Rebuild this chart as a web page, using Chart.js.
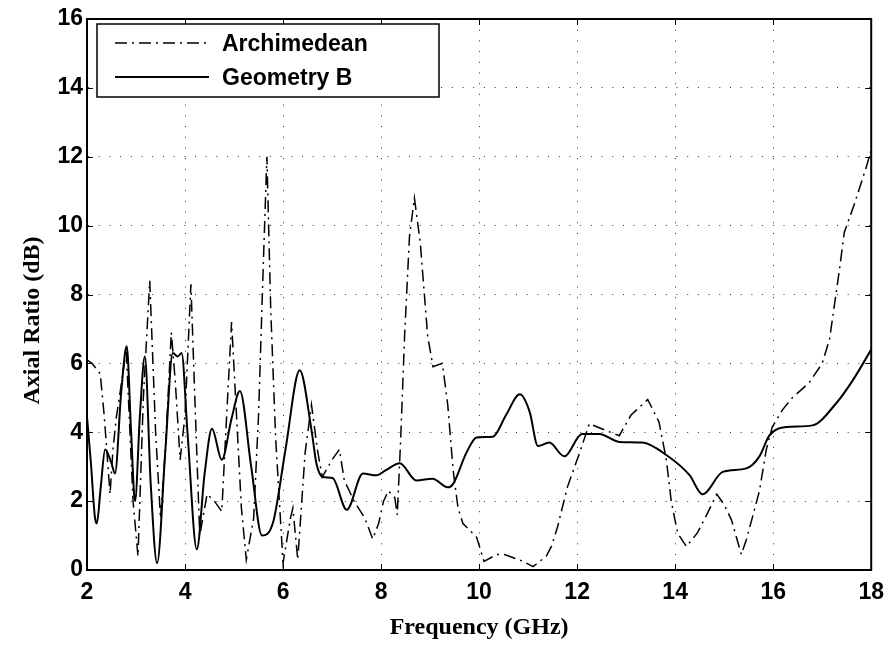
<!DOCTYPE html>
<html>
<head>
<meta charset="utf-8">
<script src="https://cdn.jsdelivr.net/npm/chart.js@4/dist/chart.umd.min.js"></script>
<style>
  html, body { margin: 0; padding: 0; background: #fff; }
  #wrap { width: 893px; height: 645px; }
</style>
</head>
<body>
<div id="wrap"><canvas id="arChart"></canvas></div>
<script>
// Axis ticks
const xTicks = [2, 4, 6, 8, 10, 12, 14, 16, 18];
const yTicks = [0, 2, 4, 6, 8, 10, 12, 14, 16];

// Archimedean (dash-dot)
const freqA = [2.0, 2.1, 2.27, 2.35, 2.47, 2.53, 2.6, 2.68, 2.8, 2.94,
  3.04, 3.15, 3.28, 3.4, 3.5, 3.6, 3.72, 3.8, 3.9, 4.0,
  4.12, 4.2, 4.3, 4.45, 4.6, 4.75, 4.85, 4.95, 5.05, 5.15,
  5.25, 5.4, 5.5, 5.6, 5.67, 5.75, 5.85, 6.0, 6.15, 6.2,
  6.3, 6.45, 6.58, 6.7, 6.8, 7.0, 7.15, 7.25, 7.45, 7.67,
  7.83, 7.95, 8.05, 8.15, 8.28, 8.33, 8.4, 8.48, 8.58, 8.68,
  8.8, 8.95, 9.06, 9.25, 9.36, 9.47, 9.57, 9.67, 9.95, 10.1,
  10.36, 10.52, 10.9, 11.1, 11.37, 11.48, 11.6, 11.8, 12.05, 12.25,
  12.5, 12.86, 13.1, 13.44, 13.67, 13.82, 13.92, 14.05, 14.23, 14.45,
  14.66, 14.85, 15.0, 15.15, 15.35, 15.45, 15.58, 15.72, 15.86, 15.98,
  16.19, 16.39, 16.74, 17.0, 17.15, 17.35, 17.45, 17.65, 17.9, 18.0];
const arA = [6.1, 6.0, 5.7, 4.5, 2.2, 3.5, 4.45, 5.2, 6.4, 2.0,
  0.4, 5.0, 8.4, 4.0, 1.5, 3.5, 6.9, 5.5, 3.2, 4.5,
  8.3, 5.0, 1.0, 2.2, 2.0, 1.7, 4.5, 7.2, 4.5, 1.8,
  0.3, 1.5, 4.5, 9.0, 12.0, 7.5, 3.8, 0.2, 1.5, 1.8,
  0.3, 3.4, 4.8, 3.5, 2.7, 3.2, 3.5, 2.6, 2.0, 1.5,
  0.9, 1.35, 2.0, 2.3, 2.1, 1.6, 3.8, 6.8, 9.7, 10.8,
  9.5, 6.8, 5.9, 6.0, 4.8, 2.9, 1.8, 1.35, 0.95, 0.25,
  0.45, 0.45, 0.25, 0.1, 0.4, 0.7, 1.25, 2.4, 3.4, 4.25,
  4.1, 3.9, 4.5, 4.95, 4.3, 3.2, 2.0, 1.07, 0.68, 1.07,
  1.65, 2.2, 1.9, 1.45, 0.45, 0.87, 1.55, 2.3, 3.5, 4.15,
  4.65, 5.0, 5.45, 6.0, 6.7, 8.7, 9.8, 10.6, 11.7, 12.2];

// Geometry B (solid)
const freqB = [2.0, 2.08, 2.16, 2.2, 2.28, 2.37, 2.5, 2.57, 2.7, 2.81,
  2.9, 2.98, 3.08, 3.18, 3.3, 3.43, 3.6, 3.75, 3.85, 3.93,
  4.05, 4.24, 4.4, 4.55, 4.75, 4.95, 5.12, 5.35, 5.57, 5.8,
  6.05, 6.34, 6.58, 6.68, 6.81, 7.01, 7.3, 7.63, 7.9, 8.1,
  8.38, 8.72, 9.05, 9.36, 9.47, 9.74, 9.95, 10.28, 10.55, 10.83,
  11.03, 11.2, 11.43, 11.74, 12.1, 12.45, 12.86, 13.33, 13.82, 14.29,
  14.56, 14.97, 15.45, 15.72, 15.92, 16.27, 16.8, 17.29, 17.62, 18.0];
const arB = [4.45, 3.1, 1.55, 1.35, 2.4, 3.5, 3.1, 2.8, 5.2, 6.5,
  4.0, 2.0, 4.5, 6.2, 2.5, 0.2, 3.5, 6.3, 6.2, 6.3,
  4.0, 0.6, 2.8, 4.1, 3.2, 4.4, 5.2, 3.0, 1.0, 1.4,
  3.5, 5.8, 4.07, 3.1, 2.7, 2.67, 1.75, 2.8, 2.75, 2.9,
  3.1, 2.6, 2.65, 2.4, 2.5, 3.4, 3.85, 3.87, 4.5, 5.1,
  4.6, 3.6, 3.7, 3.3, 3.95, 3.95, 3.72, 3.7, 3.34, 2.76,
  2.2, 2.85, 2.95, 3.3, 3.9, 4.15, 4.2, 4.85, 5.5, 6.4];

const xTitle = 'Frequency (GHz)';
const yTitle = 'Axial Ratio (dB)';

const toPoints = (xs, ys) => xs.map((x, i) => ({ x: x, y: ys[i] }));

const tickFont = { family: '"Liberation Sans", Arial, sans-serif', size: 23, weight: 'bold' };
const titleFont = { family: '"Liberation Serif", "Times New Roman", serif', size: 24, weight: 'bold' };

// MATLAB-style frame, inward ticks, y title and boxed legend
const matlabFrame = {
  id: 'matlabFrame',
  afterDraw(chart) {
    const { ctx, chartArea: a, scales } = chart;
    ctx.save();
    ctx.strokeStyle = '#000';
    ctx.lineWidth = 1;
    xTicks.forEach(v => {
      const px = Math.round(scales.x.getPixelForValue(v)) + 0.5;
      ctx.beginPath();
      ctx.moveTo(px, a.bottom); ctx.lineTo(px, a.bottom - 6);
      ctx.moveTo(px, a.top); ctx.lineTo(px, a.top + 6);
      ctx.stroke();
    });
    yTicks.forEach(v => {
      const py = Math.round(scales.y.getPixelForValue(v)) + 0.5;
      ctx.beginPath();
      ctx.moveTo(a.left, py); ctx.lineTo(a.left + 6, py);
      ctx.moveTo(a.right, py); ctx.lineTo(a.right - 6, py);
      ctx.stroke();
    });
    ctx.lineWidth = 2;
    ctx.strokeRect(a.left, a.top, a.right - a.left, a.bottom - a.top);

    // y axis title, centred a little below the axes middle as in the original
    ctx.save();
    ctx.translate(33, (a.top + a.bottom) / 2 + 26);
    ctx.rotate(-Math.PI / 2);
    ctx.font = 'bold 24px "Liberation Serif", "Times New Roman", serif';
    ctx.textAlign = 'center';
    ctx.textBaseline = 'middle';
    ctx.fillStyle = '#000';
    ctx.fillText(yTitle, 0, 0);
    ctx.restore();

    // legend box
    const bx = a.left + 10, by = a.top + 5, bw = 342, bh = 73;
    ctx.fillStyle = '#fff';
    ctx.fillRect(bx, by, bw, bh);
    ctx.lineWidth = 1.5;
    ctx.strokeRect(bx, by, bw, bh);
    ctx.font = 'bold 23px "Liberation Sans", Arial, sans-serif';
    ctx.textBaseline = 'middle';
    ctx.fillStyle = '#000';
    chart.data.datasets.forEach((ds, i) => {
      const ry = by + 19 + i * 34;
      ctx.beginPath();
      ctx.lineWidth = ds.borderWidth;
      ctx.setLineDash(ds.borderDash || []);
      ctx.moveTo(bx + 18, ry);
      ctx.lineTo(bx + 112, ry);
      ctx.stroke();
      ctx.setLineDash([]);
      ctx.fillText(ds.label, bx + 125, ry + 2);
    });
    ctx.restore();
  }
};

new Chart(document.getElementById('arChart'), {
  type: 'scatter',
  data: {
    datasets: [{
      label: 'Archimedean',
      data: toPoints(freqA, arA),
      showLine: true,
      borderColor: '#000',
      borderWidth: 1.5,
      borderDash: [12, 5, 2, 5],
      pointRadius: 0,
      tension: 0
    }, {
      label: 'Geometry B',
      data: toPoints(freqB, arB),
      showLine: true,
      borderColor: '#000',
      borderWidth: 2,
      pointRadius: 0,
      cubicInterpolationMode: 'monotone'
    }]
  },
  options: {
    responsive: true,
    maintainAspectRatio: false,
    animation: false,
    layout: { padding: { top: 19, right: 21, left: 0, bottom: 0 } },
    plugins: {
      legend: { display: false },
      tooltip: { enabled: false }
    },
    scales: {
      x: {
        type: 'linear',
        min: 2, max: 18,
        afterBuildTicks: s => { s.ticks = xTicks.map(v => ({ value: v })); },
        afterFit: s => { s.height = 75; },
        ticks: { font: tickFont, color: '#000', padding: 9, maxRotation: 0 },
        grid: { color: '#333', lineWidth: 1, drawTicks: false },
        border: { display: true, color: '#000', width: 2, dash: [1, 9.7] },
        title: { display: true, text: xTitle, font: titleFont, color: '#000', padding: { top: 0, bottom: 3 } }
      },
      y: {
        min: 0, max: 16,
        afterBuildTicks: s => { s.ticks = yTicks.map(v => ({ value: v })); },
        afterFit: s => { s.width = 87; },
        ticks: { font: tickFont, color: '#000', padding: 4 },
        grid: { color: '#333', lineWidth: 1, drawTicks: false },
        border: { display: true, color: '#000', width: 2, dash: [1, 9.7] }
      }
    }
  },
  plugins: [matlabFrame]
});
</script>
</body>
</html>
